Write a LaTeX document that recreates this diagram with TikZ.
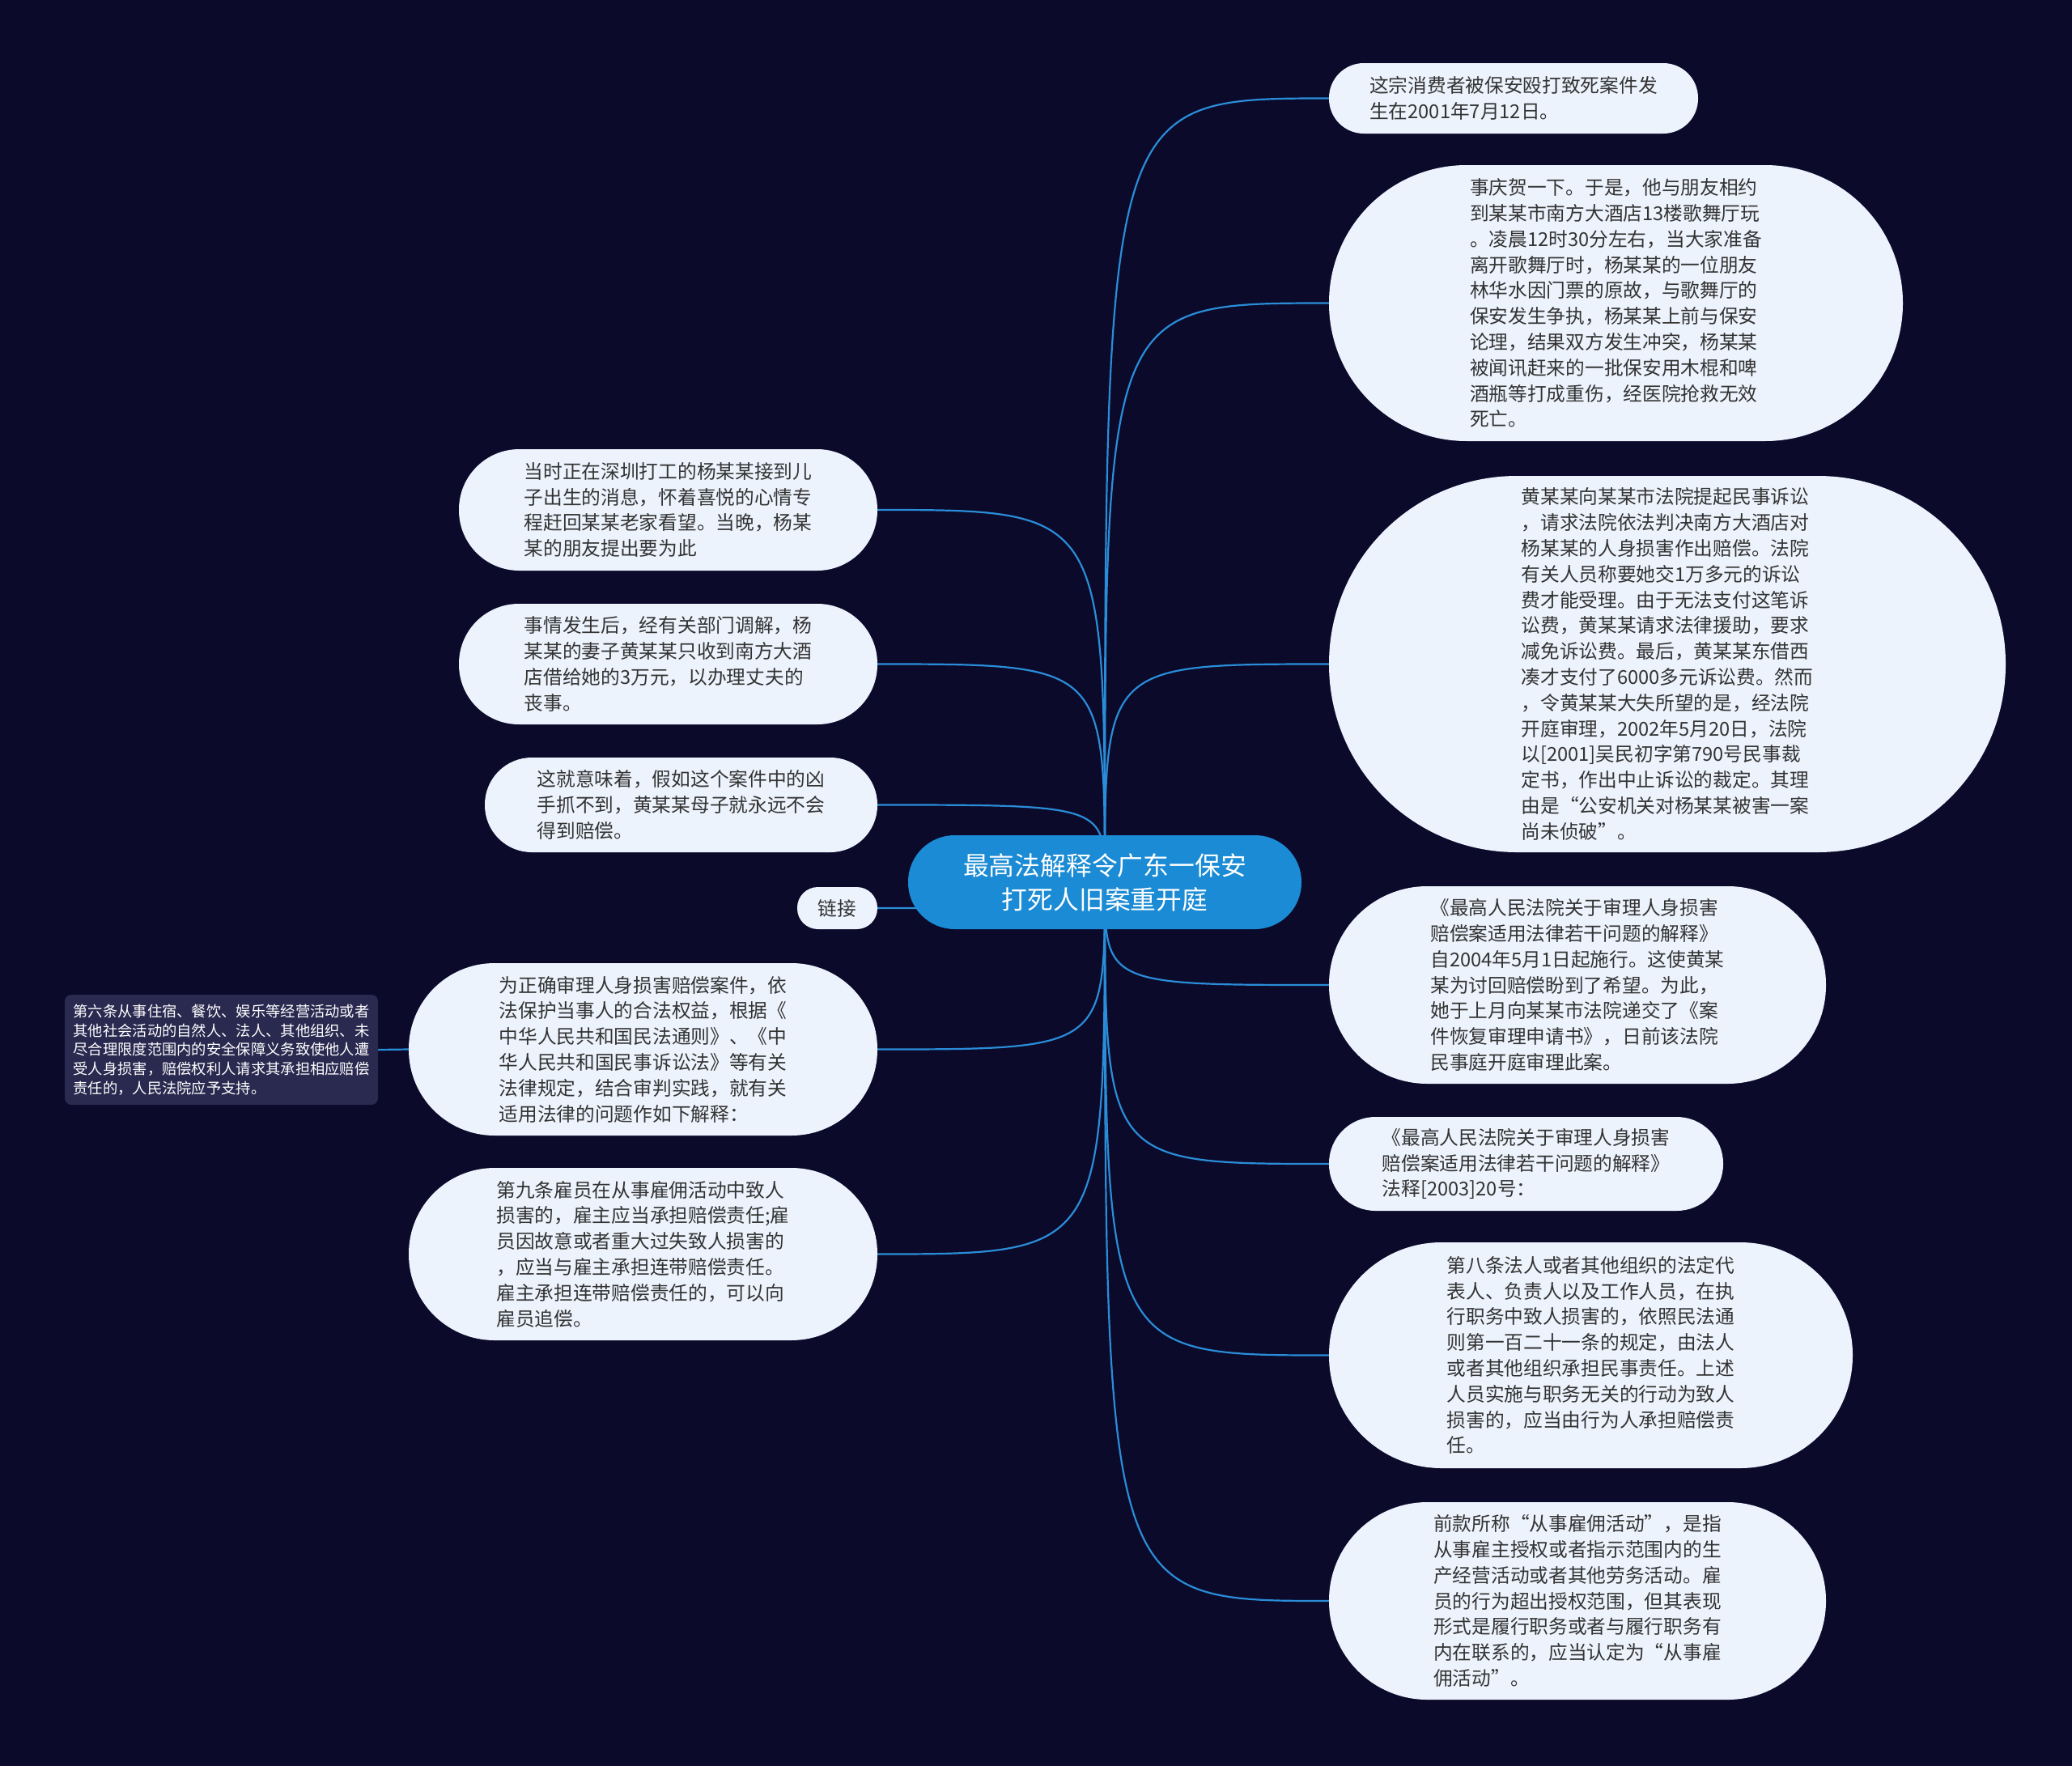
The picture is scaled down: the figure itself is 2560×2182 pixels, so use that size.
\documentclass[tikz,border=0pt]{standalone}
\usepackage{fontspec}
\newfontfamily\cjk{Noto Sans CJK SC}
\definecolor{bgcol}{HTML}{0B0A2B}
\definecolor{nodefill}{HTML}{EDF3FD}
\definecolor{txt}{HTML}{333333}
\definecolor{edgecol}{HTML}{2A8DD8}
\definecolor{rootfill}{HTML}{1A8BD4}
\definecolor{darkbox}{HTML}{2A2950}
\pgfdeclarelayer{bg}
\pgfdeclarelayer{edges}
\pgfsetlayers{bg,edges,main}
\begin{document}
\begin{tikzpicture}[x=1pt,y=-1pt,
  bub/.style={fill=nodefill, text=txt, align=left, inner sep=0pt,
    font=\cjk\fontsize{23.7}{31.8}\selectfont},
  rootbox/.style={fill=rootfill, text=white, align=center, inner sep=0pt,
    font=\cjk\fontsize{31.8}{42}\selectfont},
  notebox/.style={fill=darkbox, text=white, align=left, inner sep=0pt,
    rounded corners=8pt, font=\cjk\fontsize{18.3}{23.7}\selectfont},
  conn/.style={draw=edgecol, line width=2.2pt}]
\begin{pgfonlayer}{bg}
\fill[bgcol] (0,0) rectangle (2560,2182);
\end{pgfonlayer}

% root
\node[rootbox, minimum width=486pt, minimum height=116pt, rounded corners=57.5pt] (c) at (1365,1090)
  {最高法解释令广东一保安\\打死人旧案重开庭};

% right side
\node[bub, minimum width=456pt, minimum height=87pt, rounded corners=43pt] (r1) at (1870,121.5)
  {这宗消费者被保安殴打致死案件发\\生在2001年7月12日。};
\node[bub, minimum width=709pt, minimum height=341pt, rounded corners=170pt] (r2) at (1996.5,374.5)
  {事庆贺一下。于是，他与朋友相约\\到某某市南方大酒店13楼歌舞厅玩\\。凌晨12时30分左右，当大家准备\\离开歌舞厅时，杨某某的一位朋友\\林华水因门票的原故，与歌舞厅的\\保安发生争执，杨某某上前与保安\\论理，结果双方发生冲突，杨某某\\被闻讯赶来的一批保安用木棍和啤\\酒瓶等打成重伤，经医院抢救无效\\死亡。};
\node[bub, minimum width=836pt, minimum height=465pt, rounded corners=232pt] (r3) at (2060,820.5)
  {黄某某向某某市法院提起民事诉讼\\，请求法院依法判决南方大酒店对\\杨某某的人身损害作出赔偿。法院\\有关人员称要她交1万多元的诉讼\\费才能受理。由于无法支付这笔诉\\讼费，黄某某请求法律援助，要求\\减免诉讼费。最后，黄某某东借西\\凑才支付了6000多元诉讼费。然而\\，令黄某某大失所望的是，经法院\\开庭审理，2002年5月20日，法院\\以[2001]吴民初字第790号民事裁\\定书，作出中止诉讼的裁定。其理\\由是“公安机关对杨某某被害一案\\尚未侦破”。};
\node[bub, minimum width=614pt, minimum height=244pt, rounded corners=121.5pt] (r4) at (1949,1217)
  {《最高人民法院关于审理人身损害\\赔偿案适用法律若干问题的解释》\\自2004年5月1日起施行。这使黄某\\某为讨回赔偿盼到了希望。为此，\\她于上月向某某市法院递交了《案\\件恢复审理申请书》，日前该法院\\民事庭开庭审理此案。};
\node[bub, minimum width=487pt, minimum height=116pt, rounded corners=57.5pt] (r5) at (1885.5,1438)
  {《最高人民法院关于审理人身损害\\赔偿案适用法律若干问题的解释》\\法释[2003]20号：};
\node[bub, minimum width=647pt, minimum height=279pt, rounded corners=139pt] (r6) at (1965.5,1674.5)
  {第八条法人或者其他组织的法定代\\表人、负责人以及工作人员，在执\\行职务中致人损害的，依照民法通\\则第一百二十一条的规定，由法人\\或者其他组织承担民事责任。上述\\人员实施与职务无关的行动为致人\\损害的，应当由行为人承担赔偿责\\任。};
\node[bub, minimum width=614pt, minimum height=244pt, rounded corners=121.5pt] (r7) at (1949,1978)
  {前款所称“从事雇佣活动”，是指\\从事雇主授权或者指示范围内的生\\产经营活动或者其他劳务活动。雇\\员的行为超出授权范围，但其表现\\形式是履行职务或者与履行职务有\\内在联系的，应当认定为“从事雇\\佣活动”。};

% left side
\node[bub, minimum width=517pt, minimum height=150pt, rounded corners=74.5pt] (l1) at (825.5,630)
  {当时正在深圳打工的杨某某接到儿\\子出生的消息，怀着喜悦的心情专\\程赶回某某老家看望。当晚，杨某\\某的朋友提出要为此};
\node[bub, minimum width=517pt, minimum height=149pt, rounded corners=74pt] (l2) at (825.5,820.5)
  {事情发生后，经有关部门调解，杨\\某某的妻子黄某某只收到南方大酒\\店借给她的3万元，以办理丈夫的\\丧事。};
\node[bub, minimum width=485pt, minimum height=117pt, rounded corners=58pt] (l3) at (841.5,994.5)
  {这就意味着，假如这个案件中的凶\\手抓不到，黄某某母子就永远不会\\得到赔偿。};
\node[bub, minimum width=99pt, minimum height=52pt, rounded corners=25.5pt] (lk) at (1034.5,1122)
  {链接};
\node[bub, minimum width=579pt, minimum height=213pt, rounded corners=106pt] (l5) at (794.5,1296.5)
  {为正确审理人身损害赔偿案件，依\\法保护当事人的合法权益，根据《\\中华人民共和国民法通则》、《中\\华人民共和国民事诉讼法》等有关\\法律规定，结合审判实践，就有关\\适用法律的问题作如下解释：};
\node[bub, minimum width=579pt, minimum height=213pt, rounded corners=106pt] (l6) at (794.5,1549.5)
  {第九条雇员在从事雇佣活动中致人\\损害的，雇主应当承担赔偿责任;雇\\员因故意或者重大过失致人损害的\\，应当与雇主承担连带赔偿责任。\\雇主承担连带赔偿责任的，可以向\\雇员追偿。};
\node[notebox, minimum width=387pt, minimum height=136pt] (fl) at (273.5,1297)
  {第六条从事住宿、餐饮、娱乐等经营活动或者\\其他社会活动的自然人、法人、其他组织、未\\尽合理限度范围内的安全保障义务致使他人遭\\受人身损害，赔偿权利人请求其承担相应赔偿\\责任的，人民法院应予支持。};

% connectors
\begin{pgfonlayer}{edges}
\foreach \n in {r1,r2,r3,r4,r5,r6,r7}
  \draw[conn] (c.center) .. controls (c.center |- \n.west) .. (\n.west);
\foreach \n in {l1,l2,l3,lk,l5,l6}
  \draw[conn] (c.center) .. controls (c.center |- \n.east) .. (\n.east);
\draw[conn] (l5.west) -- (fl.east);
\end{pgfonlayer}
\end{tikzpicture}
\end{document}
